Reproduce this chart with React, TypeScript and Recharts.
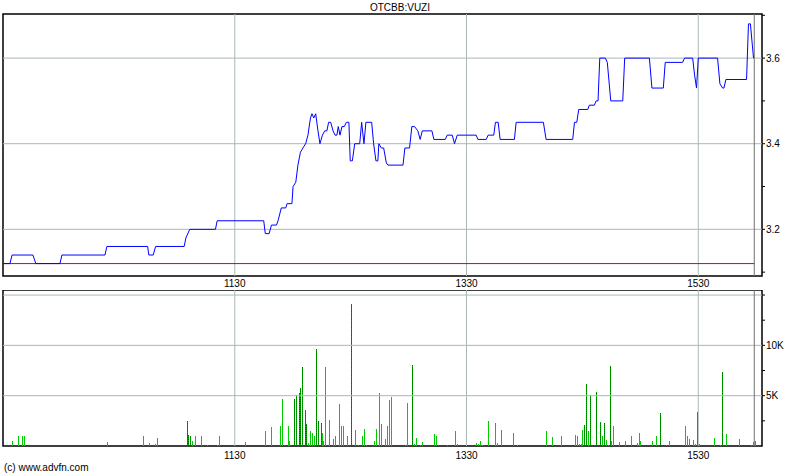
import { Bar, ComposedChart, Line, ReferenceArea, ReferenceLine, XAxis, YAxis } from "recharts";

// minutes since 09:30
const priceTimes = [
  0, 3.6, 4.7, 15.5, 17, 29.5, 30.5, 52.8, 53.8, 74.9, 75.5, 77.8, 79, 93.8, 94.7, 96.7, 110, 110.9,
  135, 135.8, 137.8, 139, 141.6, 142.4, 144.1, 146.4, 147.1, 149.6, 150.2, 151.6, 152.7, 154, 155.3,
  156.7, 157.9, 159.2, 160, 160.9, 161.9, 163.1, 164.1, 165.4, 166.6, 167.7, 168.6, 169.7, 170.9,
  171.9, 172.9, 173.6, 174.5, 175.5, 176.7, 177.8, 179.1, 179.8, 180.9, 182.1, 184.7, 185.7, 186.9,
  187.9, 190.9, 191.9, 193.1, 194.1, 194.6, 195.9, 197.1, 198.5, 199.3, 207.1, 208.1, 210.5, 211.7,
  213.1, 214.8, 216, 217.1, 222.1, 223.1, 229, 230, 232.6, 233.8, 235.2, 245, 245.9, 250.2, 251.2,
  254.1, 255, 256.4, 257.4, 264.8, 265.7, 279.8, 281.2, 295, 295.9, 297.1, 298.1, 302.8, 303.6,
  306.2, 307.1, 308.1, 309, 311.9, 312.9, 314.7, 320.9, 321.9, 334.7, 336, 341.9, 342.9, 351.9,
  352.9, 357.1, 358.1, 359.1, 360, 370, 371.2, 372.6, 373.3, 374.3, 385, 386, 387, 388.6,
];
const prices = [
  3.12, 3.12, 3.14, 3.14, 3.12, 3.12, 3.14, 3.14, 3.16, 3.16, 3.14, 3.14, 3.16, 3.16, 3.18, 3.2, 3.2, 3.22,
  3.22, 3.19, 3.19, 3.21, 3.21, 3.22, 3.25, 3.25, 3.26, 3.26, 3.3, 3.31, 3.35, 3.38, 3.39,
  3.4, 3.42, 3.46, 3.47, 3.46, 3.47, 3.43, 3.4, 3.42, 3.43, 3.43, 3.45, 3.45, 3.43,
  3.42, 3.42, 3.44, 3.42, 3.44, 3.44, 3.45, 3.45, 3.36, 3.36, 3.4, 3.4, 3.45, 3.4,
  3.45, 3.45, 3.4, 3.36, 3.36, 3.4, 3.39, 3.39, 3.355, 3.35, 3.35, 3.39, 3.39, 3.44,
  3.44, 3.43, 3.41, 3.43, 3.43, 3.41, 3.41, 3.42, 3.42, 3.4, 3.42, 3.42, 3.41, 3.41, 3.42,
  3.42, 3.45, 3.45, 3.41, 3.41, 3.45, 3.45, 3.41, 3.41, 3.45, 3.45, 3.48, 3.48, 3.49,
  3.49, 3.5, 3.5, 3.6, 3.6, 3.59, 3.5, 3.5, 3.6, 3.6, 3.53, 3.53, 3.59, 3.59,
  3.6, 3.6, 3.56, 3.53, 3.6, 3.6, 3.54, 3.53, 3.53, 3.55, 3.55, 3.68, 3.68, 3.6,
];
const prevClose = 3.12;

const volTimes = [
  0, 5, 8, 10, 11, 54, 73, 76, 79, 80, 95.3, 96.2, 97.2, 98.4, 99.5, 102.6, 106, 111, 112, 125.5,
  136.2, 139.3, 143.6, 144.5, 147.6, 148.6, 151.2, 152.2, 153.3, 154.3, 155.3, 156.4, 157.4, 158.4,
  159.5, 160.5, 161.5, 162.6, 163.6, 164.7, 165.2, 166.2, 167.2, 169.3, 171.4, 172.4, 174.5, 175.5,
  176.5, 178.6, 180.3, 182.4, 184.3, 186.4, 187.4, 188.4, 192.6, 193.6, 195.2, 196.2, 198.3, 199.3,
  200.3, 201.4, 208.6, 209.7, 212.2, 213.3, 214.3, 216.4, 217.4, 223.6, 224.7, 230.3, 234.5, 235.5,
  245.3, 246.4, 247.4, 248.4, 251.5, 255.2, 256.2, 258.3, 264.5, 266.6,
  281.5, 284.6, 289.3, 296.5, 297.6, 298.6, 299.6, 300.2, 301.2, 302.2, 303.3, 304.3, 307.4, 309.5,
  310.5, 311.5, 312.6, 313.6, 314.6, 315.2, 316.2, 319.3, 322.4, 325.5, 328.6, 329.6, 330.2, 336.4,
  338.4, 340.5, 343.6, 345.2, 353.4, 354.5, 355.5, 357.6, 358.6, 359.6, 360.7, 368.4, 371.5, 372.6,
  374.6, 381.4, 387.6, 388.6, 389.6,
];
const volumes = [
  3530, 530, 1030, 1030, 1030, 430, 1030, 330, 200, 800, 2530, 1130, 1030, 460, 1030, 1030, 130, 130, 1030, 430,
  1530, 1930, 2030, 4630, 2030, 530, 4700, 5030, 5230, 5730, 7830, 3530, 2230, 330,
  1530, 1330, 1030, 9630, 2530, 2330, 1330, 530, 7830, 2630, 730, 1030, 4130, 2030,
  2030, 1030, 14130, 1630, 130, 1030, 1730, 130, 530, 1730, 5230, 2230, 730, 2030,
  4530, 4830, 130, 4230, 8030, 230, 830, 130, 430, 1230, 1030, 130, 1530, 230,
  330, 230, 530, 130, 2530, 2330, 330, 1630, 1330, 130,
  1530, 930, 1030, 1130, 1030, 230, 230, 1630, 2130, 6130, 1530, 5030, 5330, 2430,
  1030, 2330, 630, 130, 7930, 530, 2030, 430, 530, 1030, 330, 1330, 530, 530,
  1030, 3230, 130, 530, 2030, 1030, 730, 630, 230, 3330, 230, 830, 130, 7330,
  1230, 730, 130, 430, 530,
];
// bars drawn in the dark stipple
const greyVolTimes = [
  95.3, 96.2, 97.2, 151.2, 152.2, 153.3, 154.3, 155.3, 156.4, 157.4, 162.6, 163.6, 164.7, 180.3, 212.2,
  301.2, 302.2, 304.3, 307.4, 309.5, 311.5, 314.6, 340.5, 359.6, 372.6,
];

const timeTicks = [120, 240, 360];
const timeLabels = ["1130", "1330", "1530"];
const priceTicks = [3.1, 3.2, 3.3, 3.4, 3.5, 3.6, 3.7];
const volTicks = [2500, 5000, 7500, 10000, 12500, 15000];
const nowTime = 389;

const priceData = priceTimes.map((t, i) => ({ t, p: prices[i] }));
const volData = volTimes.map((t, i) => ({ t, v: volumes[i], grey: greyVolTimes.includes(t) }));

const X_DOMAIN: [number, number] = [0, 393];
const P_DOMAIN: [number, number] = [3.091, 3.703];
const V_DOMAIN: [number, number] = [0, 15500];
const FONT = "'Liberation Sans Narrow', 'Liberation Sans', Arial, sans-serif";
const GRID = "#a9b8b8";
const tickStyle = { fontSize: 10, fill: "#000", fontFamily: FONT };

const timeFmt = (v: number) => timeLabels[timeTicks.indexOf(v)] ?? "";
const priceFmt = (v: number) => (Math.round(v * 10) % 2 === 0 && v < 3.65 ? v.toFixed(1) : "");
const volFmt = (v: number) => (v === 5000 ? "5K" : v === 10000 ? "10K" : "");

// 1px volume stick snapped to the pixel grid
function VolStick(props: any) {
  const { x, y, width, height, payload } = props;
  if (!height || height <= 0) return null;
  const cx = Math.round(x + width / 2 - 0.5);
  const top = Math.round(y);
  const bottom = Math.round(y + height);
  return (
    <rect
      x={cx}
      y={top}
      width={1}
      height={Math.max(1, bottom - top)}
      fill={payload.grey ? "url(#vol-stipple)" : "#00cc00"}
      shapeRendering="crispEdges"
    />
  );
}

export default function App() {
  return (
    <div style={{ position: "absolute", left: 0, top: 0, width: 800, height: 475, background: "#fff", fontFamily: FONT }}>
      <div style={{ position: "absolute", top: 2, left: 0, width: 800, textAlign: "center", fontSize: 10 }}>
        OTCBB:VUZI
      </div>

      <div style={{ position: "absolute", top: 0, left: 0 }}>
        <ComposedChart width={800} height={290} data={priceData} margin={{ top: 14, right: 0, left: 3, bottom: 0 }}>
          <XAxis
            dataKey="t"
            type="number"
            domain={X_DOMAIN}
            ticks={timeTicks}
            tickFormatter={timeFmt}
            allowDataOverflow
            height={14}
            tickSize={0}
            tickMargin={4}
            axisLine={false}
            tickLine={false}
            tick={tickStyle}
          />
          <YAxis
            orientation="right"
            type="number"
            domain={P_DOMAIN}
            ticks={priceTicks}
            tickFormatter={priceFmt}
            allowDataOverflow
            width={38}
            tickSize={3}
            tickMargin={1}
            axisLine={false}
            tickLine={{ stroke: "#000" }}
            tick={tickStyle}
          />
          <YAxis
            yAxisId="l"
            orientation="left"
            type="number"
            domain={P_DOMAIN}
            ticks={priceTicks}
            allowDataOverflow
            width={0}
            mirror
            tickSize={3}
            axisLine={false}
            tickLine={{ stroke: "#000" }}
            tick={false}
          />
          {[3.2, 3.4, 3.6].map((y) => (
            <ReferenceLine key={y} y={y} stroke={GRID} />
          ))}
          {timeTicks.map((x) => (
            <ReferenceLine key={x} x={x} stroke={GRID} />
          ))}
          <ReferenceLine x={nowTime} stroke="#707070" />
          <ReferenceLine
            segment={[{ x: 0, y: prevClose }, { x: nowTime, y: prevClose }]}
            stroke="#dd0000"
          />
          <Line
            dataKey="p"
            type="linear"
            stroke="#0000ff"
            strokeWidth={1}
            dot={false}
            activeDot={false}
            isAnimationActive={false}
          />
          <ReferenceArea x1={X_DOMAIN[0]} x2={X_DOMAIN[1]} y1={P_DOMAIN[0]} y2={P_DOMAIN[1]} fill="none" stroke="#000" strokeWidth={1.5} fillOpacity={0} />
        </ComposedChart>
      </div>

      <div style={{ position: "absolute", top: 290, left: 0 }}>
        <ComposedChart width={800} height={185} data={volData} margin={{ top: 0, right: 0, left: 3, bottom: 0 }}>
          <defs>
            <pattern id="vol-stipple" width="1" height="2" patternUnits="userSpaceOnUse">
              <rect x="0" y="0" width="1" height="1" fill="#00a000" />
              <rect x="0" y="1" width="1" height="1" fill="#404040" />
            </pattern>
          </defs>
          <XAxis
            dataKey="t"
            type="number"
            domain={X_DOMAIN}
            ticks={timeTicks}
            tickFormatter={timeFmt}
            allowDataOverflow
            height={29}
            tickSize={0}
            tickMargin={6}
            axisLine={false}
            tickLine={false}
            tick={tickStyle}
          />
          <YAxis
            orientation="right"
            type="number"
            domain={V_DOMAIN}
            ticks={volTicks}
            tickFormatter={volFmt}
            allowDataOverflow
            width={38}
            tickSize={3}
            tickMargin={1}
            axisLine={false}
            tickLine={{ stroke: "#000" }}
            tick={tickStyle}
          />
          <YAxis
            yAxisId="l"
            orientation="left"
            type="number"
            domain={V_DOMAIN}
            ticks={volTicks}
            allowDataOverflow
            width={0}
            mirror
            tickSize={3}
            axisLine={false}
            tickLine={{ stroke: "#000" }}
            tick={false}
          />
          {[5000, 10000, 15000].map((y) => (
            <ReferenceLine key={y} y={y} stroke={GRID} />
          ))}
          {timeTicks.map((x) => (
            <ReferenceLine key={x} x={x} stroke={GRID} />
          ))}
          <ReferenceLine x={nowTime} stroke="#707070" />
          <Bar dataKey="v" barSize={1} shape={VolStick} isAnimationActive={false} />
          <ReferenceArea x1={X_DOMAIN[0]} x2={X_DOMAIN[1]} y1={V_DOMAIN[0]} y2={V_DOMAIN[1]} fill="none" stroke="#000" strokeWidth={1.5} fillOpacity={0} />
        </ComposedChart>
      </div>

      <div style={{ position: "absolute", top: 462, left: 4, fontSize: 10 }}>(c) www.advfn.com</div>
    </div>
  );
}
